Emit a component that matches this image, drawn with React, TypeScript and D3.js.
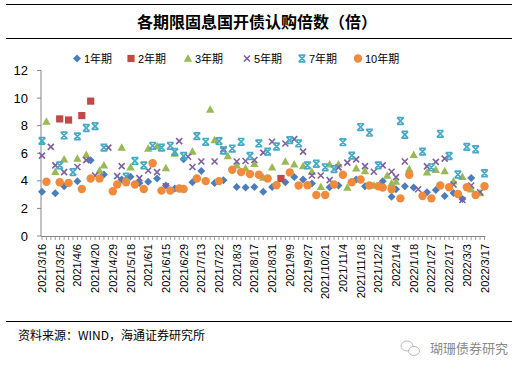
import React from 'react';
import * as d3 from 'd3';

// auction dates shown on the axis (every 4th category)
const tickLabels = [
  '2021/3/16', '2021/3/25', '2021/4/6', '2021/4/20', '2021/4/29', '2021/5/18', '2021/6/1',
  '2021/6/15', '2021/6/29', '2021/7/13', '2021/7/22', '2021/8/3', '2021/8/17', '2021/8/31',
  '2021/9/9', '2021/9/27', '2021/10/21', '2021/11/4', '2021/11/18', '2021/12/2', '2022/1/4',
  '2022/1/18', '2022/1/27', '2022/2/17', '2022/3/3', '2022/3/17',
];
const categoryCount = 101;
const labelEvery = 4;
const yTicks = [0, 2, 4, 6, 8, 10, 12];

// [category index, 认购倍数]
const y1: [number, number][] = [
  [0, 3.2], [3, 3.1], [5, 3.61], [8, 3.97], [11, 5.49], [14, 4.46], [18, 4.1], [20, 4.3], [22, 3.85],
  [24, 3.93], [26, 4.17], [28, 3.66], [30, 3.44], [32, 5.56], [34, 3.9], [36, 4.71], [39, 3.85],
  [41, 4.05], [44, 3.56], [46, 3.51], [48, 3.56], [50, 3.2], [52, 3.56], [55, 3.9], [57, 4.27],
  [59, 4.1], [61, 3.8], [65, 3.54], [67, 3.66], [71, 4.1], [73, 3.61], [77, 3.97], [79, 2.85],
  [80, 3.39], [82, 3.61], [84, 3.51], [87, 3.17], [89, 3.34], [91, 2.9], [93, 3.12], [95, 2.68], [97, 4.2],
];
const y2: [number, number][] = [[4, 8.49], [6, 8.41], [9, 8.73], [11, 9.78], [54, 4.17]];
const y3: [number, number][] = [
  [1, 8.3], [3, 4.66], [5, 5.56], [8, 5.61], [10, 5.88], [13, 4.75], [14, 5.12], [18, 6.41], [20, 4.98],
  [24, 6.34], [26, 6.5], [28, 4.92], [30, 5.98], [34, 6.12], [38, 9.17], [39, 6.95], [42, 5.8],
  [44, 5.12], [46, 4.9], [48, 5.24], [50, 4.24], [52, 4.98], [55, 5.4], [57, 5.19], [59, 5.07],
  [61, 4.66], [63, 3.56], [65, 5.19], [67, 5.19], [69, 3.51], [71, 4.9], [73, 4.71], [75, 3.66],
  [78, 4.39], [79, 3.83], [80, 3.95], [83, 4.85], [84, 5.88], [87, 4.61], [89, 4.8], [91, 4.71],
  [93, 3.97], [95, 4.3], [97, 3.39], [99, 3.12],
];
const y5: [number, number][] = [
  [0, 5.83], [2, 6.46], [3, 5.12], [5, 4.63], [8, 5.0], [10, 5.5], [12, 4.39], [15, 6.41], [17, 4.34],
  [18, 5.07], [22, 4.2], [24, 4.75], [26, 4.63], [28, 3.61], [31, 6.88], [33, 5.75], [34, 5.0],
  [36, 5.4], [39, 5.4], [41, 6.3], [44, 5.4], [46, 5.44], [48, 5.51], [50, 6.05], [52, 6.83],
  [55, 6.71], [57, 7.02], [59, 6.12], [61, 4.39], [63, 4.39], [65, 4.05], [67, 4.98], [69, 5.32],
  [71, 5.56], [73, 5.07], [75, 4.66], [77, 5.12], [79, 4.66], [80, 4.27], [82, 5.4], [85, 3.39],
  [87, 5.05], [89, 5.37], [91, 5.61], [93, 3.73], [95, 2.61], [97, 3.66], [99, 3.17],
];
const y7: [number, number][] = [
  [0, 6.9], [4, 5.12], [5, 7.29], [7, 4.63], [8, 7.22], [10, 7.83], [12, 7.97], [14, 6.41], [19, 4.3],
  [21, 5.44], [23, 5.12], [25, 6.54], [27, 6.41], [29, 6.54], [30, 6.1], [32, 5.8], [35, 7.24],
  [37, 6.83], [40, 6.88], [41, 6.2], [43, 6.34], [45, 6.83], [47, 5.8], [49, 6.71], [51, 6.12],
  [53, 6.49], [56, 6.95], [58, 6.71], [60, 5.12], [62, 5.24], [64, 4.98], [66, 4.85], [68, 6.8],
  [70, 5.83], [72, 7.9], [74, 7.49], [76, 5.12], [81, 8.34], [82, 7.34], [86, 6.12], [88, 4.98],
  [90, 7.41], [92, 5.8], [94, 4.46], [96, 6.46], [98, 6.29], [100, 4.55],
];
const y10: [number, number][] = [
  [1, 3.93], [4, 3.9], [6, 3.85], [9, 3.41], [11, 4.17], [13, 4.17], [16, 3.24], [17, 3.73], [19, 3.9],
  [21, 3.73], [23, 3.41], [25, 5.27], [27, 3.29], [29, 3.29], [31, 3.44], [32, 3.41], [35, 4.17],
  [37, 3.98], [40, 3.98], [43, 4.8], [45, 4.63], [47, 4.49], [49, 4.44], [51, 4.17], [53, 3.68],
  [56, 4.61], [58, 3.66], [60, 3.68], [62, 2.97], [64, 2.97], [66, 3.73], [68, 4.44], [70, 3.9],
  [72, 4.1], [74, 3.66], [76, 3.61], [77, 3.51], [79, 3.39], [81, 2.73], [83, 4.44], [86, 2.9],
  [88, 2.73], [90, 3.66], [92, 3.54], [94, 3.05], [96, 3.54], [98, 2.97], [100, 3.61],
];

const seriesNames = ['1年期', '2年期', '3年期', '5年期', '7年期', '10年期'];
const seriesData = [y1, y2, y3, y5, y7, y10];
const colors = ['#4A7EBB', '#BE4B48', '#98B954', '#7D5FA0', '#46AAC5', '#F08A3C'];

const W = 527;
const H = 372;
const left = 42;
const right = 484.5;
const top = 70.5;
const bottom = 236;

function Marker({ kind, x, y, color }: { kind: number; x: number; y: number; color: string }) {
  if (kind === 0) {
    const s = 4;
    return <path d={`M${x},${y - s}L${x + s},${y}L${x},${y + s}L${x - s},${y}Z`} fill={color} />;
  }
  if (kind === 1) return <rect x={x - 3.6} y={y - 3.6} width={7.2} height={7.2} fill={color} />;
  if (kind === 2) {
    return <path d={`M${x},${y - 4.3}L${x + 4.2},${y + 3.2}L${x - 4.2},${y + 3.2}Z`} fill={color} />;
  }
  if (kind === 3) {
    const s = 3;
    return (
      <path d={`M${x - s},${y - s}L${x + s},${y + s}M${x + s},${y - s}L${x - s},${y + s}`}
        stroke={color} strokeWidth={1.6} fill="none" />
    );
  }
  if (kind === 4) {
    const s = 3.3;
    return (
      <path
        d={`M${x - s},${y - s}L${x + s},${y + s}M${x + s},${y - s}L${x - s},${y + s}M${x - s},${y - s}L${x + s},${y - s}M${x - s},${y + s}L${x + s},${y + s}`}
        stroke={color} strokeWidth={1.7} fill="none" />
    );
  }
  return <circle cx={x} cy={y} r={4.2} fill={color} />;
}

export default function App() {
  const x = d3.scalePoint<number>().domain(d3.range(categoryCount)).range([left, right]);
  const y = d3.scaleLinear().domain([0, 12]).range([bottom, top]);

  const legendX = [77, 131, 188, 247, 302, 358];

  return (
    <svg width={W} height={H} viewBox={`0 0 ${W} ${H}`}
      style={{ position: 'absolute', left: 0, top: 0, background: '#fff' }}
      fontFamily="'Liberation Sans', Arial, 'Noto Sans CJK SC', sans-serif">
      <rect width={W} height={H} fill="#fff" />
      {/* title block */}
      <line x1={6} x2={512} y1={4.5} y2={4.5} stroke="#000" strokeWidth={1} />
      <text x={257} y={28} textAnchor="middle" fontSize={16} fontWeight="bold"
        fontFamily="'Noto Sans CJK SC', sans-serif">各期限固息国开债认购倍数（倍）</text>
      <line x1={6} x2={512} y1={38.5} y2={38.5} stroke="#000" strokeWidth={1} />

      {/* legend */}
      {seriesNames.map((name, i) => (
        <g key={name}>
          <Marker kind={i} x={legendX[i]} y={58.5} color={colors[i]} />
          <text x={legendX[i] + 7} y={62.5} fontSize={11} fill="#000">{name}</text>
        </g>
      ))}

      {/* y axis */}
      <line x1={left - 1} x2={left - 1} y1={top} y2={bottom} stroke="#868686" />
      {yTicks.map((t) => (
        <g key={t}>
          <line x1={left - 5} x2={left - 1} y1={y(t)} y2={y(t)} stroke="#868686" />
          <text x={28} y={y(t) + 4.5} textAnchor="end" fontSize={13} fill="#000">{t}</text>
        </g>
      ))}

      {/* x axis */}
      <line x1={left - 1} x2={right + 1} y1={bottom + 0.5} y2={bottom + 0.5} stroke="#868686" />
      {d3.range(categoryCount).map((i) => (
        <line key={i} x1={x(i)!} x2={x(i)!} y1={bottom} y2={bottom + 4} stroke="#868686" strokeWidth={0.8} />
      ))}
      {tickLabels.map((lab, k) => {
        const cx = x(k * labelEvery)!;
        return (
          <text key={lab} transform={`translate(${cx + 4},${bottom + 8}) rotate(-90)`}
            textAnchor="end" fontSize={11} fill="#000">{lab}</text>
        );
      })}

      {/* points */}
      {seriesData.map((s, si) => (
        <g key={si}>
          {s.map(([i, v]) => (
            <Marker key={i} kind={si} x={x(i)!} y={y(v)} color={colors[si]} />
          ))}
        </g>
      ))}

      {/* footer */}
      <line x1={6} x2={512} y1={321.5} y2={321.5} stroke="#000" strokeWidth={1} />
      <text x={18} y={340} fontSize={12} fill="#000" fontFamily="'Noto Sans CJK SC', sans-serif">
        资料来源：WIND，海通证券研究所
      </text>
      <g stroke="#aaa" fill="none" strokeWidth={0.8}>
        <ellipse cx={407} cy={346} rx={6} ry={5} />
        <ellipse cx={414} cy={351} rx={5.5} ry={4.5} fill="#fff" />
      </g>
      <text x={430} y={353} fontSize={13} fill="#8a8a8a" fontFamily="'Noto Sans CJK SC', sans-serif">
        瑚珊债券研究
      </text>
    </svg>
  );
}
